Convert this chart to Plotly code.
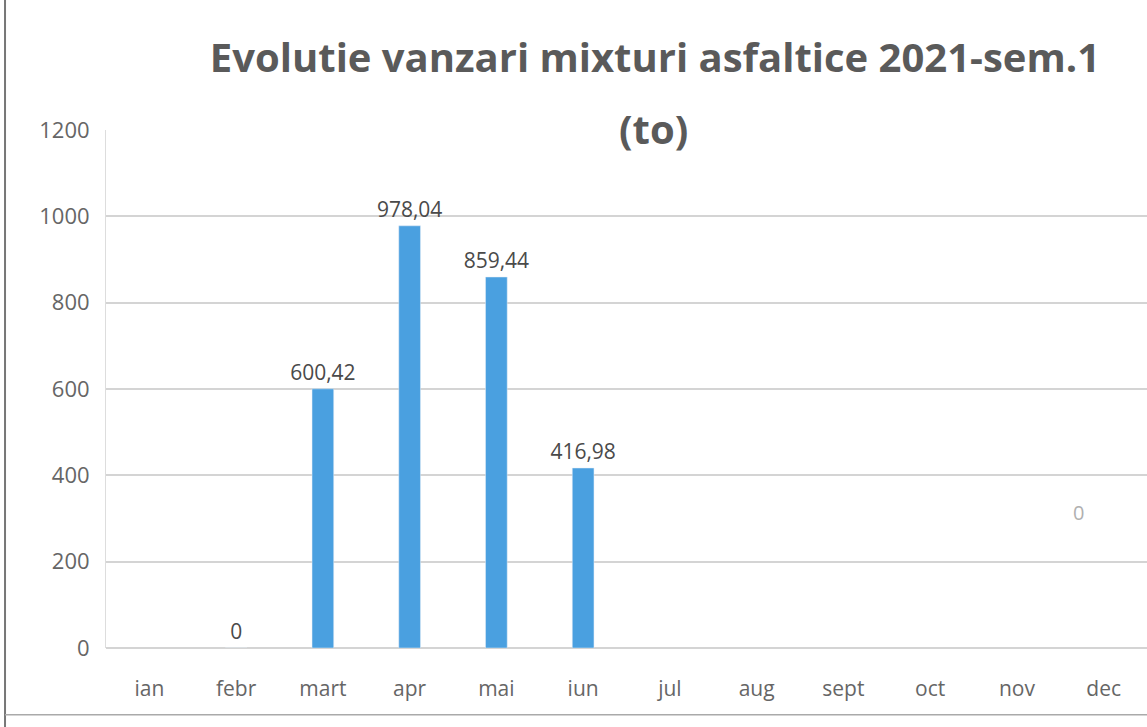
import plotly.graph_objects as go

months = ["ian", "febr", "mart", "apr", "mai", "iun", "jul", "aug", "sept", "oct", "nov", "dec"]
values = [None, 0, 600.42, 978.04, 859.44, 416.98, None, None, None, None, None, None]
labels = ["", "0", "600,42", "978,04", "859,44", "416,98", "", "", "", "", "", ""]
tick_vals = [0, 200, 400, 600, 800, 1000, 1200]

FONT = "Open Sans"
fig = go.Figure()
fig.add_trace(go.Bar(
    x=months, y=values, text=labels, textposition="outside", constraintext="none",
    textfont=dict(size=21, color="#4a4a4a", family=FONT),
    marker=dict(color="#4aa0e0"), cliponaxis=False,
))

# stray faint label near 'dec'
fig.add_annotation(x="dec", y=315, text="0", showarrow=False, xshift=-25,
                   font=dict(size=20, color="#b0b0b0", family=FONT))

# second title line
fig.add_annotation(xref="paper", yref="paper", x=0.526, y=0.996, yanchor="middle",
                   yshift=4, text="<b>(to)</b>", showarrow=False,
                   font=dict(size=40, color="#5a5a5a", family=FONT))

fig.update_layout(
    width=1147, height=727,
    margin=dict(l=106, r=0, t=130, b=79, autoexpand=False),
    paper_bgcolor="white", plot_bgcolor="white",
    bargap=0.75, showlegend=False,
    title=dict(text="<b>Evolutie vanzari mixturi asfaltice 2021-sem.1</b>",
               x=0.571, xanchor="center", yref="container", y=0.920, yanchor="middle",
               font=dict(size=40, color="#5a5a5a", family=FONT)),
    font=dict(family=FONT, color="#606060"),
)
fig.update_yaxes(range=[0, 1200], tickvals=tick_vals, showgrid=True, gridcolor="#d4d4d4",
                 gridwidth=1.5, tickfont=dict(size=22, color="#666666"),
                 ticklabelstandoff=11, zeroline=True, zerolinecolor="#d4d4d4",
                 showline=True, linecolor="#dddddd")
fig.update_xaxes(tickfont=dict(size=21, color="#666666"), ticklabelstandoff=26,
                 showline=False, ticks="")

# scan page border lines
fig.add_shape(type="line", xref="paper", yref="paper", x0=-0.097, x1=-0.097, y0=-0.16, y1=1.26,
              line=dict(color="#777777", width=2))
fig.add_shape(type="line", xref="paper", yref="paper", x0=-0.097, x1=1.0, y0=-0.129, y1=-0.129,
              line=dict(color="#aaaaaa", width=1.5))

fig.write_html("out.html", config={"displayModeBar": False},
               post_script="document.body.style.margin='0';")
